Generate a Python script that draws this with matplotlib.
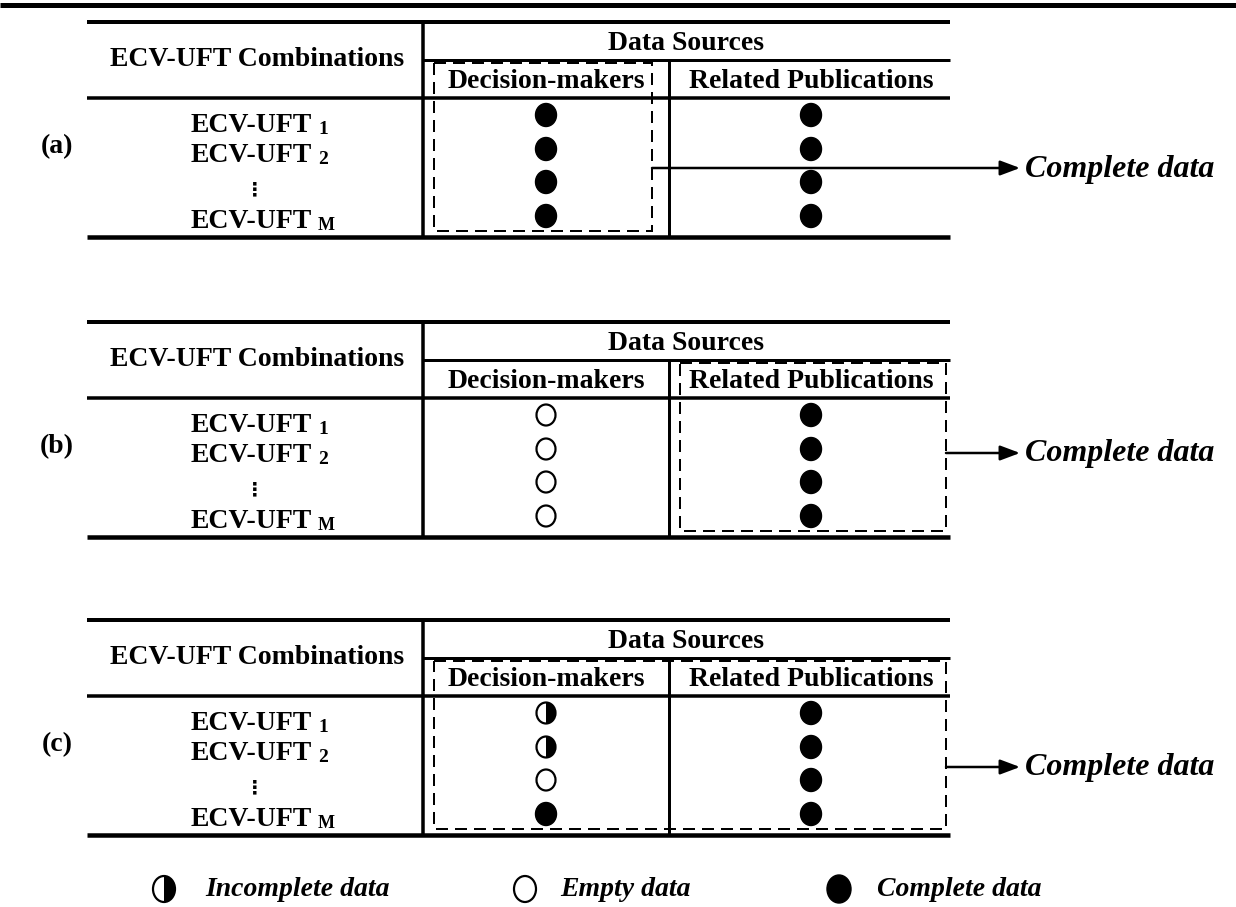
import matplotlib
matplotlib.use("Agg")
import matplotlib.pyplot as plt
from matplotlib.patches import Ellipse, Wedge, Rectangle
from matplotlib.transforms import Affine2D

# --- data
panel_labels = ["(a)", "(b)", "(c)"]
row_base = "ECV-UFT"
row_subscripts = ["1", "2", None, "M"]
source_names = ["Decision-makers", "Related Publications"]
dm_status = [
    ["complete", "complete", "complete", "complete"],
    ["empty", "empty", "empty", "empty"],
    ["incomplete", "incomplete", "empty", "complete"],
]
rp_status = [
    ["complete", "complete", "complete", "complete"],
    ["complete", "complete", "complete", "complete"],
    ["complete", "complete", "complete", "complete"],
]
highlighted = [
    ["Decision-makers"],
    ["Related Publications"],
    ["Decision-makers", "Related Publications"],
]
result_label = "Complete data"
legend_keys = ["incomplete", "empty", "complete"]
legend_labels = ["Incomplete data", "Empty data", "Complete data"]

# --- layout (pixel units, y downwards)
W, H = 1236, 907
panel_top = [22, 322, 620]
x_left, x_div1, x_div2, x_right = 87, 423, 669, 950
x_label, x_dm, x_rp = 255, 546, 811
row_dot_dy = [93, 127, 160, 194]
row_txt_dy = [103, 134, 168, 200]
box_x = {"Decision-makers": (434, 652), "Related Publications": (680, 946)}
arrow_dy = [146, 131, 147]
arrow_end, text_x = 1020, 1025
legend_y = 889
legend_sym_x = [164, 525, 839]
legend_txt_x = [205, 560, 877]

SERIF = ["Liberation Serif", "DejaVu Serif"]
PX = 0.72  # points per pixel at dpi 100

fig = plt.figure(figsize=(W / 100, H / 100), dpi=100)
ax = fig.add_axes([0, 0, 1, 1])
ax.set_xlim(0, W)
ax.set_ylim(H, 0)
ax.axis("off")


def hline(y, x0, x1, lw):
    ax.plot([x0, x1], [y, y], color="k", lw=lw * PX, solid_capstyle="butt")


def vline(x, y0, y1, lw):
    ax.plot([x, x], [y0, y1], color="k", lw=lw * PX, solid_capstyle="butt")


def marker(x, y, kind, w=21, h=23):
    if kind == "complete":
        ax.add_patch(Ellipse((x, y), w, h, fc="k", ec="k", lw=1))
    elif kind == "empty":
        ax.add_patch(Ellipse((x, y), w - 2, h - 2, fc="w", ec="k", lw=2.2 * PX))
    else:
        ax.add_patch(Ellipse((x, y), w - 2, h - 2, fc="w", ec="k", lw=2.2 * PX))
        half = Wedge((0, 0), 1, -90, 90, fc="k", ec="none")
        half.set_transform(Affine2D().scale((w - 2) / 2, (h - 2) / 2).translate(x, y) + ax.transData)
        ax.add_patch(half)


tkw = dict(family=SERIF, weight="bold", fontsize=20, ha="center", va="center")

# top rule
hline(4.5, 0, W, 5)

for p, top in enumerate(panel_top):
    # table rules
    hline(top, x_left, x_right, 4)
    hline(top + 38, x_div1, x_right, 3)
    hline(top + 76, x_left, x_right, 3.5)
    hline(top + 215, x_left, x_right, 4.5)
    vline(x_div1, top, top + 215, 3.5)
    vline(x_div2, top + 38, top + 215, 3)

    # header text
    ax.text(257, top + 37, "ECV-UFT Combinations", **tkw)
    ax.text((x_div1 + x_right) / 2, top + 21, "Data Sources", **tkw)
    ax.text(x_dm, top + 60, source_names[0], **tkw)
    ax.text(x_rp, top + 60, source_names[1], **tkw)
    ax.text(57, top + 125, panel_labels[p], **tkw)

    # row labels
    for r, sub in enumerate(row_subscripts):
        y = top + row_txt_dy[r]
        if sub is None:
            ax.text(x_label, y, "\u22ee", family=["DejaVu Sans"], weight="bold",
                    fontsize=14, ha="center", va="center")
        else:
            ax.text(x_label + 57, y, row_base, family=SERIF, weight="bold",
                    fontsize=20, ha="right", va="center")
            ax.text(x_label + 63, y + 4, sub, family=SERIF, weight="bold",
                    fontsize=14 if sub != "M" else 13, ha="left", va="center")

    # data status markers
    for r in range(len(row_subscripts)):
        y = top + row_dot_dy[r]
        marker(x_dm, y, dm_status[p][r])
        marker(x_rp, y, rp_status[p][r])

    # dashed box around the sources that give complete data
    names = highlighted[p]
    bx0 = box_x[names[0]][0]
    bx1 = box_x[names[-1]][1]
    by0, by1 = top + 41, top + 209
    ax.add_patch(Rectangle((bx0, by0), bx1 - bx0, by1 - by0, fill=False,
                           ec="k", lw=2 * PX, ls=(0, (6, 3.5))))

    # arrow to result
    ay = top + arrow_dy[p]
    ax.annotate("", xy=(arrow_end, ay), xytext=(bx1, ay),
                arrowprops=dict(arrowstyle="-|>,head_length=0.8,head_width=0.3",
                                lw=2.5 * PX, color="k", mutation_scale=15,
                                shrinkA=0, shrinkB=0))
    ax.text(text_x, ay + 1, result_label, family=SERIF, weight="bold",
            style="italic", fontsize=23, ha="left", va="center")

# legend
for key, lab, sx, tx in zip(legend_keys, legend_labels, legend_sym_x, legend_txt_x):
    marker(sx, legend_y, key, w=24, h=28)
    ax.text(tx, legend_y + 1, lab, family=SERIF, weight="bold", style="italic",
            fontsize=20, ha="left", va="center")

fig.savefig("out.png", dpi=100)
